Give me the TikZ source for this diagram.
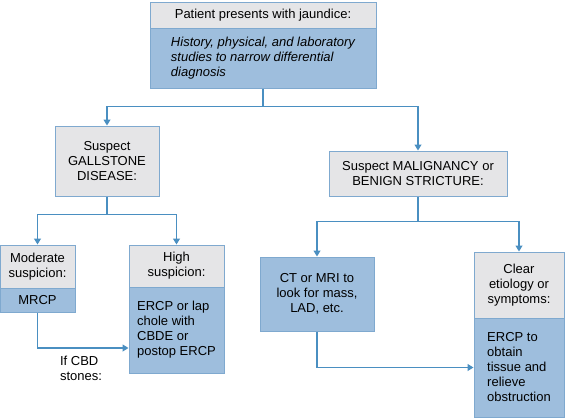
\documentclass[tikz,border=0pt]{standalone}
\usepackage{fontspec}
\setmainfont{Liberation Sans}
\usepackage{xcolor}
\usetikzlibrary{arrows.meta, positioning}
\definecolor{headgray}{HTML}{E5E5E7}
\definecolor{bodyblue}{HTML}{9EBEDD}
\definecolor{edgeblue}{HTML}{7FA9CF}
\definecolor{linkblue}{HTML}{4A8FC1}

\begin{document}
\begin{tikzpicture}[x=1pt,y=-1pt]
\tikzstyle{head}=[rectangle,draw=edgeblue,fill=headgray,line width=1pt,inner sep=0pt,align=center,font=\fontsize{13}{15}\selectfont]
\tikzstyle{body}=[rectangle,draw=edgeblue,fill=bodyblue,line width=1pt,inner sep=0pt,align=center,font=\fontsize{13}{15}\selectfont]
\tikzstyle{link}=[draw=linkblue,line width=1.1pt]
\tikzstyle{arrow}=[link,-{Triangle[width=7pt,length=6pt]}]

\useasboundingbox (0,0) rectangle (566,418);

% Jaundice
\node[head,minimum width=226pt,minimum height=26pt] (pat) at (263,15) {Patient presents with jaundice:};
\node[body,minimum width=226pt,minimum height=60pt,align=left,font=\fontsize{13}{15}\selectfont\itshape] (hist) at (263,58) {History, physical, and laboratory\\studies to narrow differential\\diagnosis};
% Gallstone
\node[head,minimum width=104pt,minimum height=70pt] (gall) at (107,161) {Suspect\\GALLSTONE\\DISEASE:};
\node[head,minimum width=75pt,minimum height=43pt] (mod) at (37.5,266.5) {Moderate\\suspicion:};
\node[body,minimum width=75pt,minimum height=24pt] (mrcp) at (37.5,300) {MRCP};
\node[head,minimum width=95pt,minimum height=42pt] (high) at (176.5,266) {High\\suspicion:};
\node[body,minimum width=95pt,minimum height=86pt,align=left] (ercp) at (176.5,330) {ERCP or lap\\chole with\\CBDE or\\postop ERCP};
\node[align=left,inner sep=0pt,font=\fontsize{13}{15}\selectfont] (cbd) at (81,368) {If CBD\\stones:};
% Malignancy
\node[head,minimum width=178pt,minimum height=45pt] (malig) at (418,173.5) {Suspect MALIGNANCY or\\BENIGN STRICTURE:};
\node[body,minimum width=114pt,minimum height=74pt] (ct) at (317,294) {CT or MRI to\\look for mass,\\LAD, etc.};
\node[head,minimum width=90pt,minimum height=66pt] (clear) at (519,285) {Clear\\etiology or\\symptoms:};
\node[body,minimum width=90pt,minimum height=99pt,align=left] (tissue) at (519,367.5) {ERCP to\\obtain\\tissue and\\relieve\\obstruction};

\draw[link] (hist.south) -- ++(0,18) coordinate (j1);
\draw[arrow] (j1) -| (gall.north);
\draw[arrow] (j1) -| (malig.north);
\draw[link] (gall.south) -- ++(0,18) coordinate (j2);
\draw[arrow] (j2) -| (mod.north);
\draw[arrow] (j2) -| (high.north);
\draw[arrow] (mrcp.south) |- ([yshift=-18pt]ercp.west);
\draw[link] (malig.south) -- ++(0,25) coordinate (j3);
\draw[arrow] (j3) -| (ct.north);
\draw[arrow] (j3) -| (clear.north);
\draw[arrow] (ct.south) |- (tissue.west);

\end{tikzpicture}
\end{document}
